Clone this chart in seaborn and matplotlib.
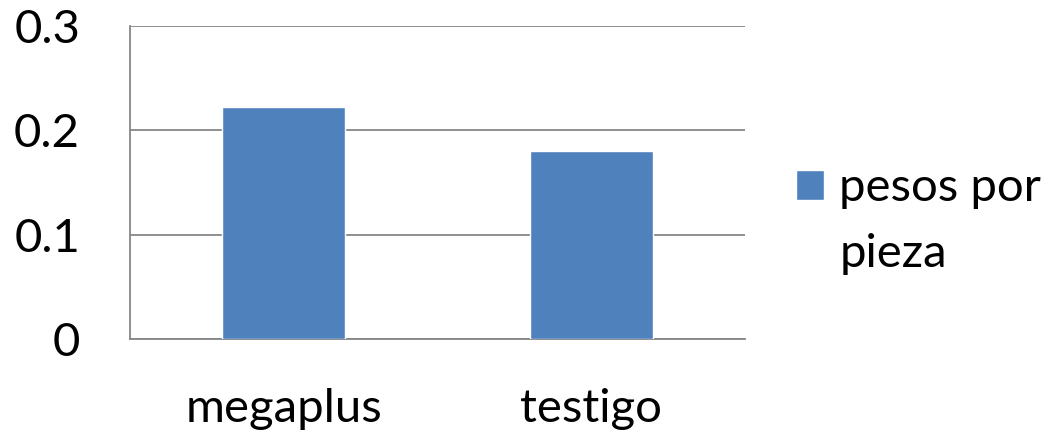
import matplotlib
matplotlib.use("Agg")
import matplotlib.pyplot as plt
import seaborn as sns
import pandas as pd

categories = ["megaplus", "testigo"]
values = [0.222, 0.180]
series_name = "pesos por\npieza"
yticks = [0, 0.1, 0.2, 0.3]
ytick_labels = ["0", "0.1", "0.2", "0.3"]

sns.set_theme(style="white")
plt.rcParams['font.family'] = ['Lato', 'DejaVu Sans']

df = pd.DataFrame({"cat": categories, "val": values, "serie": [series_name] * len(categories)})

fig = plt.figure(figsize=(10.53, 4.34), dpi=100)
ax = fig.add_axes([130/1053, 95/434, 615/1053, 313/434])

sns.barplot(data=df, x="cat", y="val", hue="serie", palette=["#4F81BD"],
            width=0.4, saturation=1, ax=ax, zorder=3, dodge=False)

FS = 34
ax.set_ylim(0, 0.3)
ax.set_xlim(-0.5, 1.5)
ax.set_yticks(yticks)
ax.set_yticklabels(ytick_labels)
ax.yaxis.grid(True, color="#868686", linewidth=1.3, zorder=0)
ax.set_axisbelow(True)
for s in ["top", "right"]:
    ax.spines[s].set_visible(False)
for s in ["left", "bottom"]:
    ax.spines[s].set_color("#868686")
    ax.spines[s].set_linewidth(1.3)
ax.tick_params(axis="both", length=0, labelsize=FS, colors="black")
ax.tick_params(axis="y", pad=36)
ax.tick_params(axis="x", pad=35)
ax.set_xlabel("")
ax.set_ylabel("")

leg = ax.legend(loc="upper left", bbox_to_anchor=(1.052, 0.61), frameon=False,
                fontsize=FS, handlelength=0.6, handleheight=0.6,
                handletextpad=0.32, borderaxespad=0, labelspacing=0.2)
txt = leg.get_texts()[0]
txt.set_linespacing(1.7)
txt.set_color("black")
# align the colour square with the first text line
h = leg.legend_handles[0]
h.set_y(h.get_y() + 26.2)

fig.savefig("out.png", dpi=100, facecolor="white")
